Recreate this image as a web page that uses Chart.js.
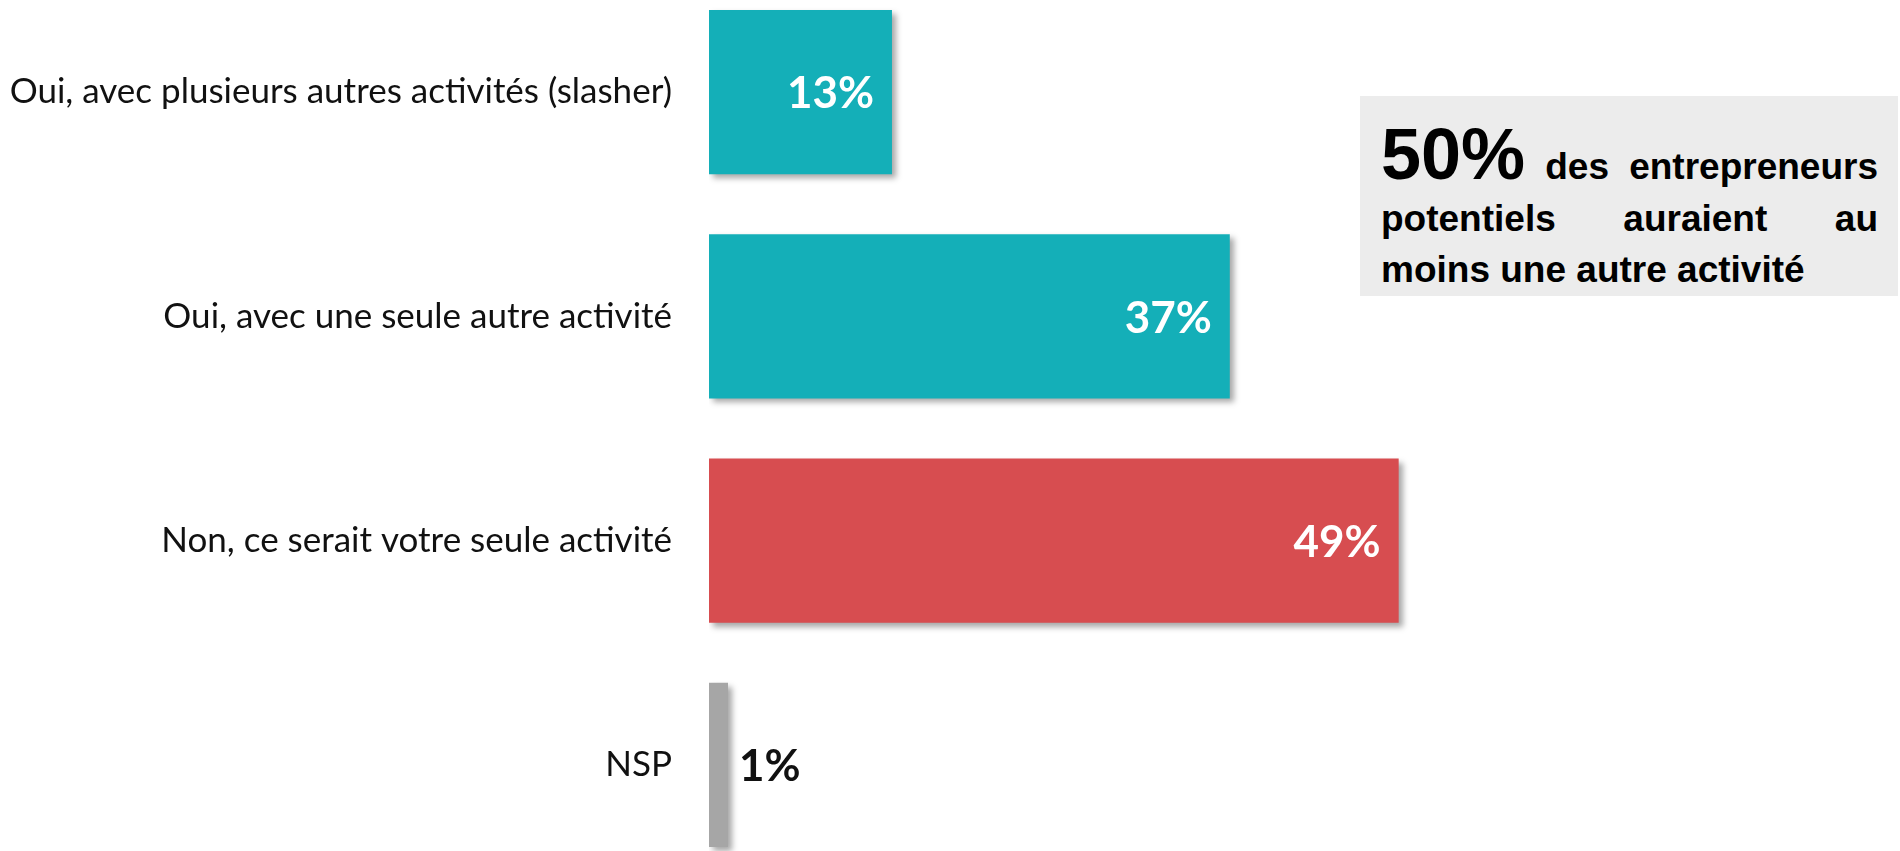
<!DOCTYPE html>
<html>
<head>
<meta charset="utf-8">
<script src="https://cdn.jsdelivr.net/npm/chart.js@4"></script>
<style>
  html, body { margin: 0; padding: 0; background: #fff; overflow: hidden; }
  body { width: 1900px; height: 851px; position: relative; }
  #wrap { position: absolute; left: 0; top: -20px; width: 1900px; height: 897px; }
  .note {
    position: absolute; left: 1360px; top: 96px; width: 538px; height: 200px;
    background: #ececec; box-sizing: border-box; padding: 22px 0 0 21px;
    font-family: "Liberation Sans", Arial, sans-serif; font-weight: bold; color: #000;
  }
  .note p { margin: 0; width: 497px; text-align: justify; font-size: 37px; line-height: 51.5px; }
  .note .big { font-size: 72px; line-height: 72px; }
</style>
</head>
<body>
<div id="wrap"><canvas id="barChart"></canvas></div>
<div class="note"><p><span class="big">50%</span> des entrepreneurs potentiels auraient au moins une autre activité</p></div>
<script>
const categories = [
    'Oui, avec plusieurs autres activités (slasher)',
    'Oui, avec une seule autre activité',
    'Non, ce serait votre seule activité',
    'NSP'
];
// bar lengths (NSP bar is a bit longer than 1 point)
const values = [13, 37, 49, 1.35];
const barColors = ['#14afb8', '#14afb8', '#d74d50', '#a6a6a6'];

const shadowPlugin = {
    id: 'barShadow',
    beforeDatasetsDraw(chart) {
        const ctx = chart.ctx;
        ctx.save();
        ctx.shadowColor = 'rgba(0, 0, 0, 0.35)';
        ctx.shadowBlur = 6;
        ctx.shadowOffsetX = 4;
        ctx.shadowOffsetY = 4;
    },
    afterDatasetsDraw(chart) {
        chart.ctx.restore();
    }
};

const valueLabels = {
    id: 'valueLabels',
    afterDraw(chart) {
        const ctx = chart.ctx;
        const meta = chart.getDatasetMeta(0);
        ctx.save();
        ctx.font = 'bold 44px Lato';
        ctx.textBaseline = 'middle';
        meta.data.forEach((bar, i) => {
            const v = values[i];
            const txt = Math.round(v) + '%';
            if (v >= 5) {
                ctx.fillStyle = '#ffffff';
                ctx.textAlign = 'right';
                ctx.fillText(txt, bar.x - 18, bar.y + 2);
            } else {
                ctx.fillStyle = '#111111';
                ctx.textAlign = 'left';
                ctx.fillText(txt, bar.x + 11, bar.y + 2);
            }
        });
        ctx.restore();
    }
};

new Chart(document.getElementById('barChart'), {
    type: 'bar',
    data: {
        labels: categories,
        datasets: [{
            data: values,
            backgroundColor: barColors,
            borderWidth: 0,
            categoryPercentage: 1,
            barPercentage: 0.732
        }]
    },
    options: {
        indexAxis: 'y',
        responsive: true,
        maintainAspectRatio: false,
        animation: false,
        layout: { padding: { left: 0, right: 65, top: 0, bottom: 0 } },
        plugins: {
            legend: { display: false },
            tooltip: { enabled: false }
        },
        scales: {
            x: { display: false, min: 0, max: 80 },
            y: {
                afterFit: (s) => {
                    s.width = 709;
                    s.paddingTop = 0;
                    s.paddingBottom = 0;
                },
                grid: { display: false },
                border: { display: false },
                ticks: {
                    padding: 29,
                    color: '#111111',
                    font: { family: 'Lato', size: 35 }
                }
            }
        }
    },
    plugins: [shadowPlugin, valueLabels]
});
</script>
</body>
</html>
